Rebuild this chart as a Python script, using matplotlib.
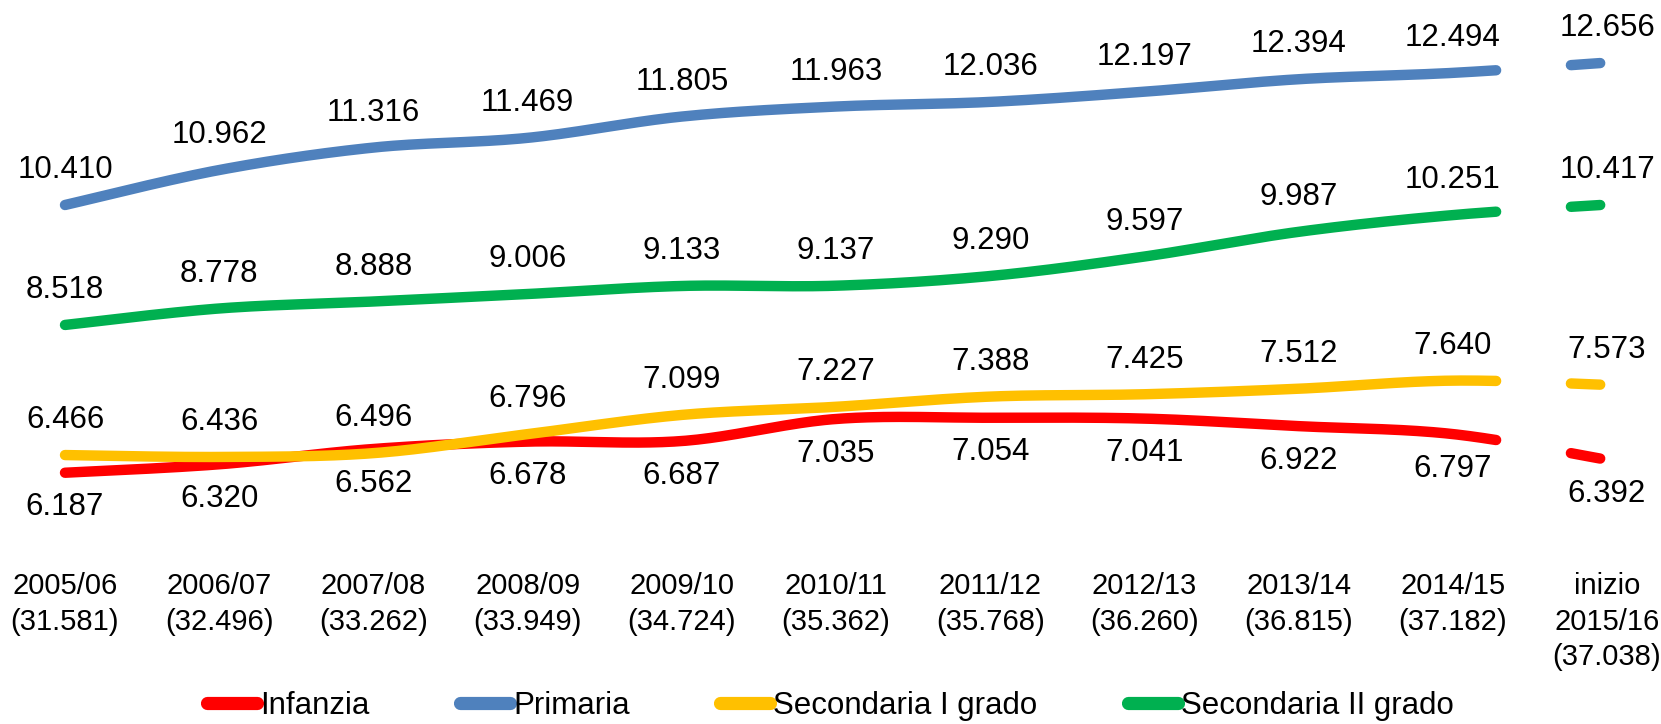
import numpy as np
import matplotlib.pyplot as plt
from matplotlib.lines import Line2D

plt.rcParams['font.family'] = ['Liberation Sans', 'DejaVu Sans']

# Data
years = ['2005/06\n(31.581)', '2006/07\n(32.496)', '2007/08\n(33.262)', '2008/09\n(33.949)',
         '2009/10\n(34.724)', '2010/11\n(35.362)', '2011/12\n(35.768)', '2012/13\n(36.260)',
         '2013/14\n(36.815)', '2014/15\n(37.182)', 'inizio\n2015/16\n(37.038)']
infanzia = [6.187, 6.320, 6.562, 6.678, 6.687, 7.035, 7.054, 7.041, 6.922, 6.797, 6.392]
primaria = [10.410, 10.962, 11.316, 11.469, 11.805, 11.963, 12.036, 12.197, 12.394, 12.494, 12.656]
sec_1 = [6.466, 6.436, 6.496, 6.796, 7.099, 7.227, 7.388, 7.425, 7.512, 7.640, 7.573]
sec_2 = [8.518, 8.778, 8.888, 9.006, 9.133, 9.137, 9.290, 9.597, 9.987, 10.251, 10.417]

series = [
    ('Infanzia', infanzia, '#FF0000', 'below'),
    ('Primaria', primaria, '#4F81BD', 'above'),
    ('Secondaria I grado', sec_1, '#FFC000', 'above'),
    ('Secondaria II grado', sec_2, '#00B050', 'above'),
]


def smooth(xs, ys, n=40):
    # bezier smoothing like spreadsheet "smoothed line"
    px = np.concatenate([[xs[0]], xs, [xs[-1]]])
    py = np.concatenate([[ys[0]], ys, [ys[-1]]])
    segs = []
    for i in range(len(xs) - 1):
        p0 = np.array([px[i + 1], py[i + 1]])
        p3 = np.array([px[i + 2], py[i + 2]])
        c1 = p0 + (p3 - np.array([px[i], py[i]])) / 6
        c2 = p3 - (np.array([px[i + 3], py[i + 3]]) - p0) / 6
        t = np.linspace(0, 1, n)[:, None]
        pts = (1 - t) ** 3 * p0 + 3 * (1 - t) ** 2 * t * c1 + 3 * (1 - t) * t ** 2 * c2 + t ** 3 * p3
        segs.append((t[:, 0], pts))
    return segs


fig = plt.figure(figsize=(16.61, 7.24), dpi=100)
ax = fig.add_axes([0, 1 - 560 / 724, 1, 560 / 724])
ax.set_xlim(-65 / 154.2, (1661 - 65) / 154.2)
ax.set_ylim(10.410 - (560 - 205) / 63.4, 10.410 + 205 / 63.4)

x = np.arange(len(years))
for name, vals, color, side in series:
    segs = smooth(x.astype(float), np.array(vals))
    main = np.vstack([p for t, p in segs[:-1]])
    t, last = segs[-1]
    head = last[t <= 0.27]
    tail = last[(t >= 0.68) & (t <= 0.935)]
    main = np.vstack([main, head])
    for part in (main, tail):
        ax.plot(part[:, 0], part[:, 1], color=color, lw=7.5, solid_capstyle='round')
    off = -25 if side == 'below' else 25
    for xi, v in zip(x, vals):
        ax.annotate(f'{v:.3f}', (xi, v), xytext=(0, off), textcoords='offset points',
                    ha='center', va='center', fontsize=22.5)

ax.set_xticks(x)
ax.set_xticklabels(years, fontsize=21, linespacing=1.32)
ax.tick_params(axis='x', length=0, pad=9)
ax.set_yticks([])
for s in ax.spines.values():
    s.set_visible(False)

handles = [Line2D([], [], color=c, lw=9.5, solid_capstyle='round') for _, _, c, _ in series]
fig.legend(handles, [s[0] for s in series], loc='center', bbox_to_anchor=(0.5, 1 - 706 / 724),
           ncol=4, frameon=False, fontsize=22.5, handlelength=1.6, handletextpad=0.1,
           columnspacing=2.9, borderaxespad=0)

fig.savefig('out.png', dpi=100)
